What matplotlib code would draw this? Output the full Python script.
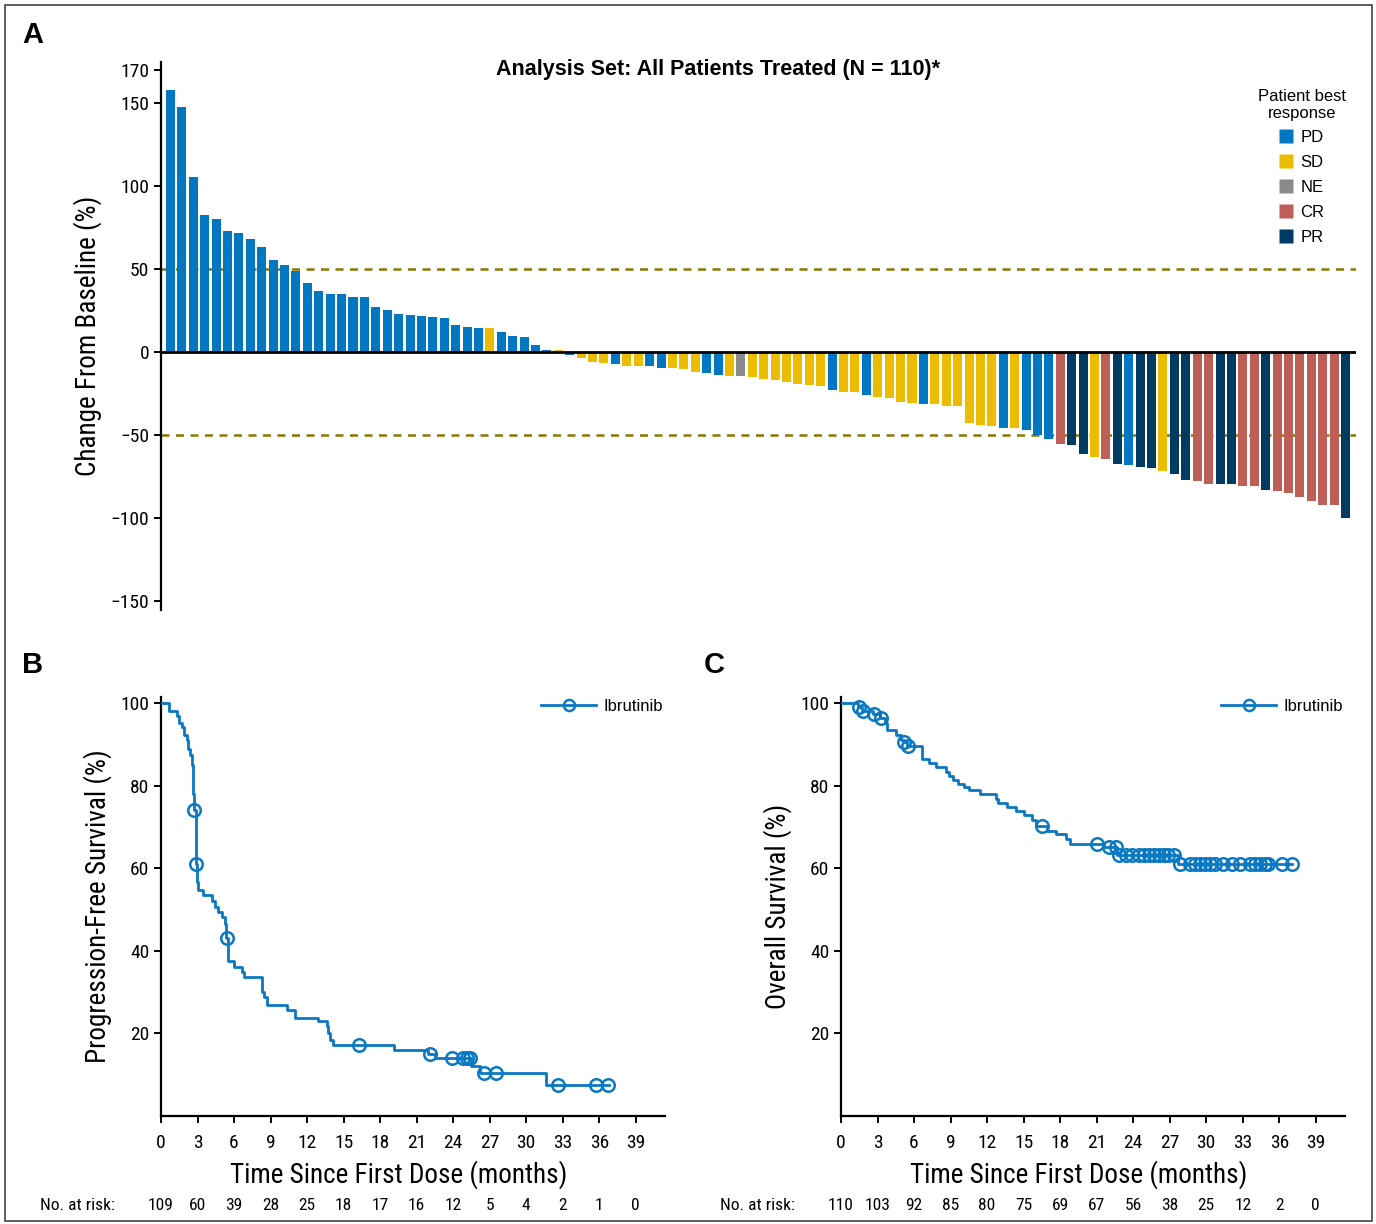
import matplotlib
matplotlib.use("Agg")
import numpy as np
import matplotlib.pyplot as plt
import matplotlib.transforms as mtransforms
from matplotlib.lines import Line2D
from matplotlib.patches import Rectangle

# ---- data -------------------------------------------------------------
# panel A: best change from baseline (%) per patient, sorted
pct_change = [
    157.6, 147.4, 105.2, 82.3, 79.9, 72.7, 71.5, 67.9, 63.1, 55.2,
    52.2, 48.6, 41.4, 36.6, 34.8, 34.8, 33.0, 33.0, 27.0, 25.2,
    22.8, 22.2, 21.6, 21.0, 20.4, 16.2, 15.0, 14.4, 14.4, 12.0,
    9.6, 9.0, 4.2, 1.2, 1.0, -2.0, -3.8, -6.2, -6.8, -7.4,
    -8.6, -8.6, -8.6, -9.8, -9.8, -10.4, -12.2, -12.9, -14.1, -14.7,
    -14.7, -15.3, -16.5, -17.1, -18.3, -19.5, -20.1, -20.7, -23.1, -24.3,
    -24.3, -26.1, -27.3, -27.9, -30.3, -30.9, -31.5, -31.5, -32.7, -32.7,
    -43.0, -44.2, -44.8, -46.0, -46.0, -47.2, -50.2, -52.6, -55.6, -56.2,
    -61.6, -63.5, -64.7, -67.7, -68.3, -69.5, -70.1, -71.9, -73.7, -77.3,
    -77.9, -79.7, -79.7, -79.7, -80.9, -80.9, -83.3, -83.9, -85.1, -87.6,
    -90.0, -92.4, -92.4, -100.0,
]
best_response = [
    "PD", "PD", "PD", "PD", "PD", "PD", "PD", "PD", "PD", "PD",
    "PD", "PD", "PD", "PD", "PD", "PD", "PD", "PD", "PD", "PD",
    "PD", "PD", "PD", "PD", "PD", "PD", "PD", "PD", "SD", "PD",
    "PD", "PD", "PD", "PD", "SD", "PD", "SD", "SD", "SD", "PD",
    "SD", "SD", "PD", "PD", "SD", "SD", "SD", "PD", "PD", "SD",
    "NE", "SD", "SD", "SD", "SD", "SD", "SD", "SD", "PD", "SD",
    "SD", "PD", "SD", "SD", "SD", "SD", "PD", "SD", "SD", "SD",
    "SD", "SD", "SD", "PD", "SD", "PD", "PD", "PD", "CR", "PR",
    "PR", "SD", "CR", "PR", "PD", "PR", "PR", "SD", "PR", "PR",
    "CR", "CR", "PR", "PR", "CR", "CR", "PR", "CR", "CR", "CR",
    "CR", "CR", "CR", "PR",
]
response_order = ["PD", "SD", "NE", "CR", "PR"]
response_colors = {"PD": "#0077c0", "SD": "#ecbc00", "NE": "#8a8a8a",
                   "CR": "#bd5e57", "PR": "#003b64"}

# panel B: progression-free survival step curve
pfs_time = [0, 0.66, 1.29, 1.48, 1.70, 1.92, 2.11, 2.25, 2.38, 2.52, 2.60,
            2.70, 2.85, 2.93, 3.07, 3.48, 4.21, 4.43, 4.70, 4.98, 5.25, 5.35,
            5.47, 6.02, 6.62, 6.84, 8.26, 8.45, 8.68, 10.32, 11.0, 12.9,
            13.6, 13.7, 13.85, 14.1, 19.1, 21.9, 22.5, 25.5, 26.2, 31.6, 36.8]
pfs_surv = [100, 98.1, 96.8, 95.1, 94.3, 92.2, 91.0, 89.0, 87.4, 85.0, 78.1,
            74.1, 61.1, 56.7, 54.7, 53.5, 52.2, 50.6, 49.4, 48.2, 46.6, 43.1,
            37.5, 36.2, 34.9, 33.6, 30.0, 28.8, 26.8, 25.7, 23.7, 23.0,
            21.9, 20.0, 18.3, 17.1, 16.0, 15.1, 14.0, 12.2, 10.4, 7.6, 7.6]
pfs_censored = [2.73, 2.87, 5.39, 16.3, 22.1, 23.9, 24.8, 25.1, 25.4,
                26.5, 27.5, 32.6, 35.7, 36.7]
pfs_at_risk = [109, 60, 39, 28, 25, 18, 17, 16, 12, 5, 4, 2, 1, 0]

# panel C: overall survival step curve
os_time = [0, 1.40, 1.70, 2.60, 3.20, 3.58, 3.80, 4.53, 4.94, 5.15, 5.40,
           6.62, 7.26, 7.80, 8.60, 8.90, 9.20, 9.60, 10.1, 10.5, 11.4, 12.7,
           12.9, 13.6, 14.4, 15.0, 15.7, 16.0, 16.9, 17.7, 18.5, 18.8, 21.6,
           22.7, 27.7, 37.05]
os_surv = [100, 99.1, 98.2, 97.3, 96.3, 95.1, 93.5, 92.2, 91.0, 90.6, 89.6,
           86.6, 85.5, 84.6, 83.3, 82.3, 81.3, 80.5, 79.6, 78.9, 77.9, 76.9,
           75.8, 74.9, 73.9, 72.8, 71.6, 70.2, 69.0, 68.2, 67.2, 66.0, 65.2,
           63.2, 61.1, 61.1]
os_censored = [1.47, 1.81, 2.71, 3.31, 5.21, 5.48, 16.5, 21.0, 22.0, 22.6,
               22.86, 23.4, 23.9, 24.5, 24.9, 25.3, 25.7, 26.1, 26.5, 26.9,
               27.35, 27.85, 28.7, 29.1, 29.5, 29.9, 30.3, 30.7, 31.4, 32.1,
               32.8, 33.6, 34.0, 34.4, 34.8, 35.1, 36.2, 37.05]
os_at_risk = [110, 103, 92, 85, 80, 75, 69, 67, 56, 38, 25, 12, 2, 0]

month_ticks = list(range(0, 40, 3))

# ---- fonts ------------------------------------------------------------
COND = ["Roboto Condensed", "Liberation Sans Narrow", "DejaVu Sans"]
REG = ["Liberation Sans", "DejaVu Sans"]
plt.rcParams["font.family"] = COND
plt.rcParams["axes.linewidth"] = 1.6
KM_BLUE = "#0a78c2"

W, H = 1376, 1224
fig = plt.figure(figsize=(W / 100, H / 100), dpi=100)


def fx(px):
    return px / W


def fy(py):
    return 1 - py / H


# ---- panel A: waterfall ------------------------------------------------
axA = fig.add_axes([fx(161), fy(610), fx(1356) - fx(161), fy(62) - fy(610)])
idx = np.arange(len(pct_change))
bar_colors = [response_colors[r] for r in best_response]
axA.bar(idx, pct_change, width=0.79, color=bar_colors, zorder=2)
axA.axhline(0, color="black", lw=2, zorder=3)
for lvl in (50, -50):
    axA.axhline(lvl, color="#8c7600", lw=1.8, ls=(0, (3.2, 2.6)), zorder=1)
axA.set_xlim(-0.83, 103.92)
axA.set_ylim(-155.4, 174.7)
axA.set_yticks([170, 150, 100, 50, 0, -50, -100, -150])
axA.tick_params(axis="y", labelsize=14, length=5, width=1.4)
axA.set_xticks([])
for s in ("top", "right", "bottom"):
    axA.spines[s].set_visible(False)
axA.set_ylabel("Change From Baseline (%)", fontsize=19.5, labelpad=6)

handles = [Line2D([], [], ls="none", marker="s", ms=10, mec="none",
                  color=response_colors[r]) for r in response_order]
legA = fig.legend(handles, response_order, title="Patient best\nresponse",
                  loc="upper right", bbox_to_anchor=(fx(1361), fy(74)),
                  frameon=False, handlelength=0.8, handletextpad=0.45,
                  labelspacing=0.6, prop={"family": REG, "size": 12},
                  title_fontproperties={"family": REG, "size": 12})
legA.get_title().set_multialignment("center")
legA._legend_box.sep = 6

fig.text(fx(718), fy(69), "Analysis Set: All Patients Treated (N = 110)*",
         ha="center", va="center", fontsize=15.5, fontweight="bold",
         family=REG)


# ---- panels B and C: KM curves ------------------------------------------
def step_value(times, surv, t):
    i = np.searchsorted(times, t, side="right") - 1
    return surv[i]


def km_panel(left_px, times, surv, censored, at_risk, ylabel, risk_x_px):
    ax = fig.add_axes([fx(left_px), fy(1116), fx(504), fy(697) - fy(1116)])
    ax.step(times, surv, where="post", color=KM_BLUE, lw=2, zorder=3)
    cy = [step_value(times, surv, t) for t in censored]
    ax.plot(censored, cy, ls="none", marker="o", ms=9, mfc="none",
            mec=KM_BLUE, mew=1.8, zorder=4)
    ax.set_xlim(0, 41.4)
    ax.set_ylim(0, 101.5)
    ax.set_xticks(month_ticks)
    ax.set_yticks([20, 40, 60, 80, 100])
    ax.tick_params(labelsize=14, length=5, width=1.4)
    ax.tick_params(axis="x", pad=8)
    for s in ("top", "right"):
        ax.spines[s].set_visible(False)
    ax.set_xlabel("Time Since First Dose (months)", fontsize=19.5)
    ax.xaxis.set_label_coords(19.5 / 41.4, -0.105)
    ax.set_ylabel(ylabel, fontsize=19.5, labelpad=6)
    h = Line2D([], [], color=KM_BLUE, lw=2, marker="o", ms=8, mfc="none",
               mew=1.8)
    ax.legend([h], ["Ibrutinib"], loc="upper right", bbox_to_anchor=(1.0, 1.0),
              frameon=False, handlelength=3.3, handletextpad=0.45,
              borderaxespad=0, borderpad=0.1, prop={"family": REG, "size": 12})
    trans = mtransforms.blended_transform_factory(ax.transData, fig.transFigure)
    for t, n in zip(month_ticks, at_risk):
        ax.text(t, fy(1205), str(n), transform=trans, ha="center",
                va="center", fontsize=12.5, clip_on=False)
    fig.text(fx(risk_x_px), fy(1205), "No. at risk:", ha="center",
             va="center", fontsize=12.5)
    return ax


km_panel(161, pfs_time, pfs_surv, pfs_censored, pfs_at_risk,
         "Progression-Free Survival (%)", 78)
km_panel(841, os_time, os_surv, os_censored, os_at_risk,
         "Overall Survival (%)", 758)

# panel letters
for letter, (px, py) in {"A": (33, 35), "B": (33, 665), "C": (714, 665)}.items():
    fig.text(fx(px), fy(py), letter, ha="center", va="center", fontsize=21,
             fontweight="bold", family=REG)

# outer frame
fig.patches.append(Rectangle((fx(5), fy(1221)), fx(1367), fy(5) - fy(1221),
                             transform=fig.transFigure, fill=False,
                             ec="#444444", lw=1.2))

fig.savefig("out.png", dpi=100)
